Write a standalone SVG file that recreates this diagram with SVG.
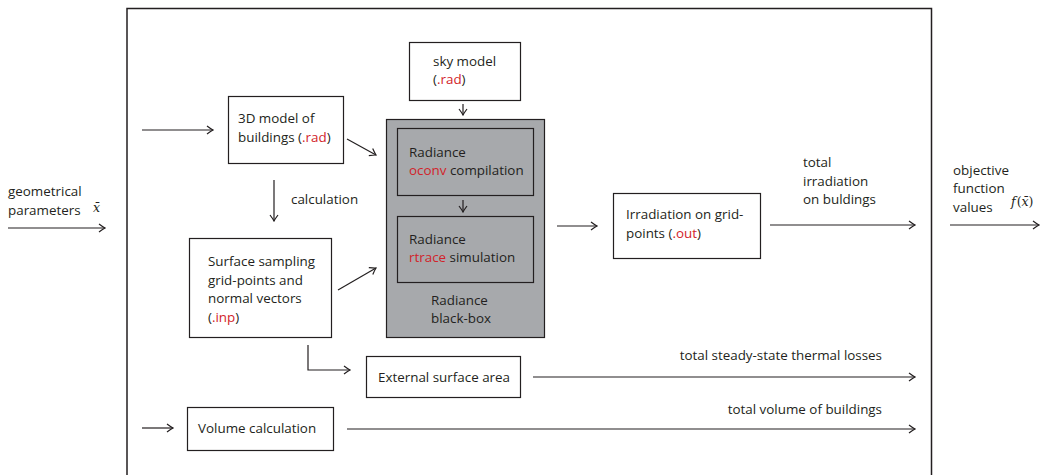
<svg xmlns="http://www.w3.org/2000/svg" width="1044" height="475" viewBox="0 0 1044 475">
<defs>
<marker id="ah" viewBox="0 0 8 10" markerWidth="8" markerHeight="10" refX="7" refY="5" orient="auto" markerUnits="userSpaceOnUse">
<path d="M1,1 Q5,4 7,5 Q5,6 1,9" fill="none" stroke="#231f20" stroke-width="1.2"/>
</marker>
</defs>
<style>
text{font-family:"Open Sans","Liberation Sans",sans-serif;font-size:13.4px;fill:#231f20}
.r{fill:#d2232a}
.m{font-family:"DejaVu Serif","Liberation Serif",serif;font-style:italic;font-size:12.5px}
.box{fill:#fff;stroke:#231f20;stroke-width:1.2}
.in{fill:none;stroke:#231f20;stroke-width:1.2}
.c path,.c line{fill:none;stroke:#231f20;stroke-width:1.2;marker-end:url(#ah)}
</style>
<rect x="0" y="0" width="1044" height="475" fill="#fff"/>
<path d="M127,476 V8.5 H931.5 V476" fill="none" stroke="#231f20" stroke-width="1.5"/>

<g id="input-label">
<text x="8" y="196">geometrical</text>
<text x="8" y="215">parameters</text>
<text x="93" y="212" class="m">x̄</text>
</g>

<g id="model3d">
<rect class="box" x="228.5" y="96.5" width="115" height="67"/>
<text x="238" y="123">3D model of</text>
<text x="238" y="142">buildings (<tspan class="r">.rad</tspan>)</text>
</g>

<g id="calc-label"><text x="291" y="204">calculation</text></g>

<g id="surface">
<rect class="box" x="189.5" y="238.5" width="142" height="99"/>
<text x="208" y="266">Surface sampling</text>
<text x="208" y="285">grid-points and</text>
<text x="208" y="303">normal vectors</text>
<text x="208" y="322">(<tspan class="r">.inp</tspan>)</text>
</g>

<g id="sky">
<rect class="box" x="409.5" y="42.5" width="111" height="58"/>
<text x="433" y="66">sky model</text>
<text x="433" y="84">(<tspan class="r">.rad</tspan>)</text>
</g>

<g id="blackbox">
<rect x="386.5" y="119.5" width="158" height="218" fill="#a7a9ac" stroke="#231f20" stroke-width="1.2"/>
<text x="431" y="305">Radiance</text>
<text x="431" y="323">black-box</text>
</g>

<g id="oconv">
<rect class="in" x="397.5" y="128.5" width="136" height="67"/>
<text x="409" y="157">Radiance</text>
<text x="409" y="175"><tspan class="r">oconv</tspan> compilation</text>
</g>

<g id="rtrace">
<rect class="in" x="397.5" y="216.5" width="136" height="66"/>
<text x="409" y="244">Radiance</text>
<text x="409" y="262"><tspan class="r">rtrace</tspan> simulation</text>
</g>

<g id="irradiation">
<rect class="box" x="613.5" y="193.5" width="147" height="65"/>
<text x="626" y="219">Irradiation on grid-</text>
<text x="626" y="238">points (<tspan class="r">.out</tspan>)</text>
</g>

<g id="irr-label">
<text x="803" y="167">total</text>
<text x="803" y="186">irradiation</text>
<text x="803" y="204">on buldings</text>
</g>

<g id="output-label">
<text x="953" y="175">objective</text>
<text x="953" y="193">function</text>
<text x="953" y="212">values</text>
<text x="1011" y="206" class="m">f<tspan font-style="normal" dx="1">(</tspan>x̄<tspan font-style="normal">)</tspan></text>
</g>

<g id="external">
<rect class="box" x="366.5" y="356.5" width="154" height="41"/>
<text x="378" y="382">External surface area</text>
</g>

<g id="losses-label"><text x="882" y="360" text-anchor="end">total steady-state thermal losses</text></g>

<g id="volume">
<rect class="box" x="187.5" y="407.5" width="146" height="43"/>
<text x="198" y="433">Volume calculation</text>
</g>

<g id="volume-label"><text x="882" y="414" text-anchor="end">total volume of buildings</text></g>

<g id="connectors" class="c">
<line x1="8" y1="228" x2="105" y2="228"/>
<line x1="142" y1="130" x2="213" y2="130"/>
<line x1="347" y1="139" x2="376" y2="155"/>
<line x1="274" y1="180" x2="274" y2="221"/>
<line x1="338" y1="290" x2="376" y2="268"/>
<line x1="463" y1="104" x2="463" y2="115"/>
<line x1="463" y1="200" x2="463" y2="212"/>
<line x1="557" y1="226" x2="597" y2="226"/>
<line x1="770" y1="225" x2="915" y2="225"/>
<line x1="950" y1="225" x2="1039" y2="225"/>
<path d="M308,345 V370 H350"/>
<line x1="533" y1="377" x2="915" y2="377"/>
<line x1="142" y1="428" x2="173" y2="428"/>
<line x1="347" y1="429" x2="915" y2="429"/>
</g>
</svg>
